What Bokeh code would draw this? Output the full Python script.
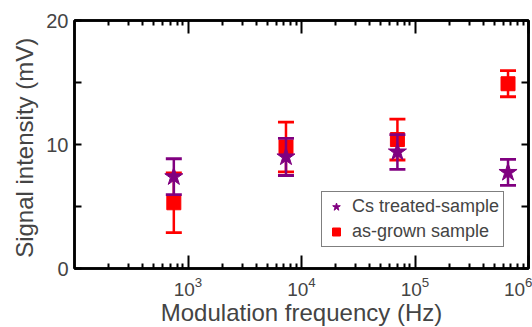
from bokeh.plotting import figure
from bokeh.models import (ColumnDataSource, Range1d, FixedTicker, LogAxis,
                          LinearAxis, Legend, LegendItem, CustomJSTickFormatter)
from bokeh.embed import file_html
from bokeh.resources import INLINE

# ---- data ----
freq_cs = [750, 7300, 70000, 660000]
signal_cs = [7.4, 9.0, 9.4, 7.75]
err_cs = [1.45, 1.5, 1.4, 1.05]

freq_ag = [750, 7300, 70000, 660000]
signal_ag = [5.3, 9.8, 10.4, 14.9]
err_ag = [2.4, 2.0, 1.65, 1.05]

x_major = [1e3, 1e4, 1e5, 1e6]
x_minor = [m * 10 ** k for k in range(2, 6) for m in range(2, 10)]
y_ticks = [0, 5, 10, 15, 20]
y_labels = {0: "0", 5: "", 10: "10", 15: "", 20: "20"}

PURPLE = "#800080"
RED = "#ff0000"
FONT = "Liberation Sans"


def make_src(x, y, e):
    return ColumnDataSource(dict(
        x=x, y=y,
        lo=[a - b for a, b in zip(y, e)],
        hi=[a + b for a, b in zip(y, e)],
    ))


src_cs = make_src(freq_cs, signal_cs, err_cs)
src_ag = make_src(freq_ag, signal_ag, err_ag)

p = figure(frame_width=454, frame_height=248, x_axis_type="log",
           x_range=Range1d(100, 1e6), y_range=Range1d(0, 20),
           output_backend="svg", toolbar_location=None,
           min_border_left=74, min_border_right=4,
           min_border_top=20, min_border_bottom=55)

p.grid.visible = False
p.outline_line_color = "black"
p.outline_line_width = 2.5
p.background_fill_color = "white"
p.border_fill_color = "white"

# error bars + markers: as-grown first, Cs treated on top
for src, col in ((src_ag, RED), (src_cs, PURPLE)):
    p.segment(x0="x", y0="lo", x1="x", y1="hi", source=src,
              line_color=col, line_width=2.5)
    p.scatter(x="x", y="lo", source=src, marker="dash", size=16,
              line_color=col, line_width=2.8)
    p.scatter(x="x", y="hi", source=src, marker="dash", size=16,
              line_color=col, line_width=2.8)
    if col == RED:
        r_ag = p.scatter(x="x", y="y", source=src, marker="square", size=14,
                         fill_color=RED, line_color=RED)
    else:
        r_cs = p.scatter(x="x", y="y", source=src, marker="star", size=19,
                         fill_color=PURPLE, line_color=PURPLE)

xt = FixedTicker(ticks=x_major, minor_ticks=x_minor)
yt = FixedTicker(ticks=y_ticks)
blank = CustomJSTickFormatter(code="return ''")


def style_x(ax, labels=True):
    ax.ticker = xt
    ax.axis_line_width = 2.5
    ax.major_tick_line_width = 2
    ax.minor_tick_line_width = 2
    ax.major_tick_in = 13
    ax.major_tick_out = 0
    ax.minor_tick_in = 5
    ax.minor_tick_out = 0
    ax.major_label_text_font = FONT
    if labels:
        ax.major_label_text_font_size = "19px"
        ax.major_label_standoff = 8
    else:
        ax.formatter = blank
        ax.major_label_text_font_size = "1px"
        ax.major_label_standoff = 0


def style_y(ax, labels=True):
    ax.ticker = yt
    ax.axis_line_width = 2.5
    ax.major_tick_line_width = 2
    ax.major_tick_in = 7
    ax.major_tick_out = 0
    ax.minor_tick_line_color = None
    ax.major_label_text_font = FONT
    if labels:
        ax.major_label_overrides = y_labels
        ax.major_label_text_font_size = "20px"
        ax.major_label_standoff = 6
    else:
        ax.formatter = blank
        ax.major_label_text_font_size = "1px"
        ax.major_label_standoff = 0


style_x(p.xaxis[0])
p.xaxis[0].axis_label = "Modulation frequency (Hz)"
p.xaxis[0].axis_label_text_font = FONT
p.xaxis[0].axis_label_text_font_size = "24px"
p.xaxis[0].axis_label_text_font_style = "normal"
p.xaxis[0].axis_label_standoff = 0

style_y(p.yaxis[0])
p.yaxis[0].axis_label = "Signal intensity  (mV)"
p.yaxis[0].axis_label_text_font = FONT
p.yaxis[0].axis_label_text_font_size = "24px"
p.yaxis[0].axis_label_text_font_style = "normal"
p.yaxis[0].axis_label_standoff = 5

top = LogAxis()
style_x(top, labels=False)
p.add_layout(top, "above")
right = LinearAxis()
style_y(right, labels=False)
p.add_layout(right, "right")

legend = Legend(items=[LegendItem(label="Cs treated-sample", renderers=[r_cs]),
                       LegendItem(label="as-grown sample", renderers=[r_ag])],
                location=(247, 21))
legend.label_text_font = FONT
legend.label_text_font_size = "18px"
legend.border_line_color = "black"
legend.border_line_width = 1.5
legend.background_fill_alpha = 1
legend.padding = 4
legend.spacing = 4
legend.margin = 0
legend.label_height = 21
legend.glyph_height = 21
legend.glyph_width = 20
legend.label_standoff = 6
p.add_layout(legend)

open("out.html", "w").write(file_html(p, INLINE))
